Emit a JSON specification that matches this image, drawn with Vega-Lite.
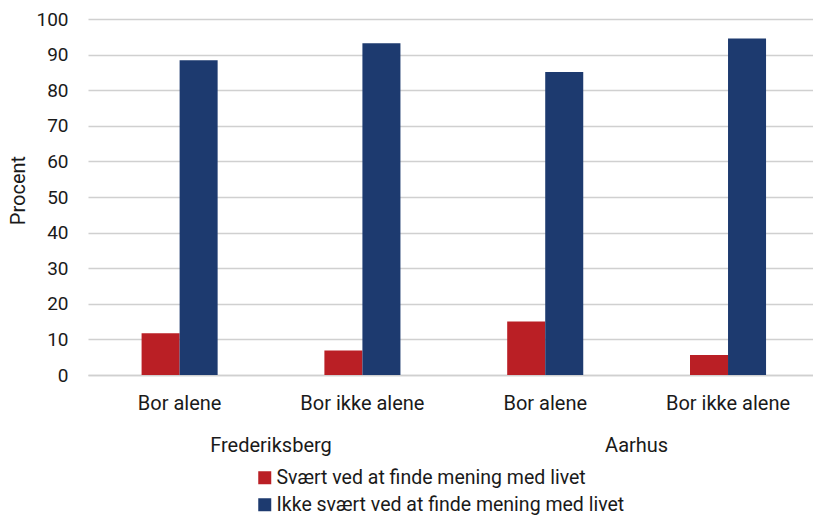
{
  "$schema": "https://vega.github.io/schema/vega-lite/v6.json",
  "width": 725,
  "height": 356,
  "autosize": {"type": "none"},
  "padding": {"left": 88, "top": 19, "right": 0, "bottom": 141},
  "background": "white",
  "config": {
    "view": {"stroke": null},
    "font": "Roboto",
    "text": {"font": "Roboto"}
  },
  "data": {
    "values": [
      {"grp": "Frederiksberg / Bor alene", "city": "Frederiksberg", "sub": "Bor alene", "serie": "Svært ved at finde mening med livet", "pct": 11.7},
      {"grp": "Frederiksberg / Bor alene", "city": "Frederiksberg", "sub": "Bor alene", "serie": "Ikke svært ved at finde mening med livet", "pct": 88.4},
      {"grp": "Frederiksberg / Bor ikke alene", "city": "Frederiksberg", "sub": "Bor ikke alene", "serie": "Svært ved at finde mening med livet", "pct": 6.9},
      {"grp": "Frederiksberg / Bor ikke alene", "city": "Frederiksberg", "sub": "Bor ikke alene", "serie": "Ikke svært ved at finde mening med livet", "pct": 93.2},
      {"grp": "Aarhus / Bor alene", "city": "Aarhus", "sub": "Bor alene", "serie": "Svært ved at finde mening med livet", "pct": 15.0},
      {"grp": "Aarhus / Bor alene", "city": "Aarhus", "sub": "Bor alene", "serie": "Ikke svært ved at finde mening med livet", "pct": 85.1},
      {"grp": "Aarhus / Bor ikke alene", "city": "Aarhus", "sub": "Bor ikke alene", "serie": "Svært ved at finde mening med livet", "pct": 5.6},
      {"grp": "Aarhus / Bor ikke alene", "city": "Aarhus", "sub": "Bor ikke alene", "serie": "Ikke svært ved at finde mening med livet", "pct": 94.5}
    ]
  },
  "resolve": {"axis": {"x": "independent"}},
  "layer": [
    {
      "mark": {"type": "bar"},
      "encoding": {
        "x": {
          "field": "grp",
          "type": "nominal",
          "sort": null,
          "scale": {"paddingInner": 0.584, "paddingOuter": 0.275, "align": 0.533},
          "axis": {
            "orient": "bottom",
            "title": null,
            "labelExpr": "split(datum.value, ' / ')[1]",
            "labelAngle": 0,
            "labelFont": "Roboto",
            "labelFontSize": 20,
            "labelColor": "#1a1a1a",
            "labelPadding": 18,
            "labelLimit": 300,
            "ticks": false,
            "domain": true,
            "domainColor": "#d0d0d0",
            "domainWidth": 1.5,
            "grid": false
          }
        },
        "xOffset": {
          "field": "serie",
          "type": "nominal",
          "sort": ["Svært ved at finde mening med livet", "Ikke svært ved at finde mening med livet"]
        },
        "y": {
          "field": "pct",
          "type": "quantitative",
          "scale": {"domain": [0, 100]},
          "axis": {
            "title": "Procent",
            "titleFont": "Roboto",
            "titleFontSize": 20,
            "titleFontWeight": "normal",
            "titleColor": "#1a1a1a",
            "titlePadding": 7,
            "titleY": 171,
            "values": [0, 10, 20, 30, 40, 50, 60, 70, 80, 90, 100],
            "labelFont": "Roboto",
            "labelFontSize": 19,
            "labelColor": "#1a1a1a",
            "labelPadding": 20,
            "ticks": false,
            "domain": false,
            "grid": true,
            "gridColor": "#d0d0d0",
            "gridWidth": 1.5
          }
        },
        "color": {
          "field": "serie",
          "type": "nominal",
          "sort": ["Svært ved at finde mening med livet", "Ikke svært ved at finde mening med livet"],
          "scale": {"range": ["#BA1F25", "#1D3A6F"]},
          "legend": {
            "title": null,
            "orient": "none",
            "legendX": 167,
            "legendY": 449,
            "direction": "vertical",
            "symbolType": "square",
            "symbolSize": 169,
            "symbolStrokeWidth": 0,
            "labelFont": "Roboto",
            "labelFontSize": 19.5,
            "labelColor": "#1a1a1a",
            "labelOffset": 2,
            "rowPadding": 6,
            "padding": 0,
            "labelLimit": 600
          }
        }
      }
    },
    {
      "mark": {"type": "rule", "strokeOpacity": 0},
      "encoding": {
        "x": {
          "field": "grp",
          "type": "nominal",
          "sort": null,
          "axis": {
            "orient": "bottom",
            "title": null,
            "labelExpr": "datum.value == 'Frederiksberg / Bor alene' ? 'Frederiksberg' : (datum.value == 'Aarhus / Bor alene' ? 'Aarhus' : '')",
            "labelAngle": 0,
            "labelFont": "Roboto",
            "labelFontSize": 20,
            "labelColor": "#1a1a1a",
            "labelPadding": 60,
            "labelOffset": 91.4,
            "labelLimit": 300,
            "ticks": false,
            "domain": false,
            "grid": false
          }
        }
      }
    }
  ]
}
